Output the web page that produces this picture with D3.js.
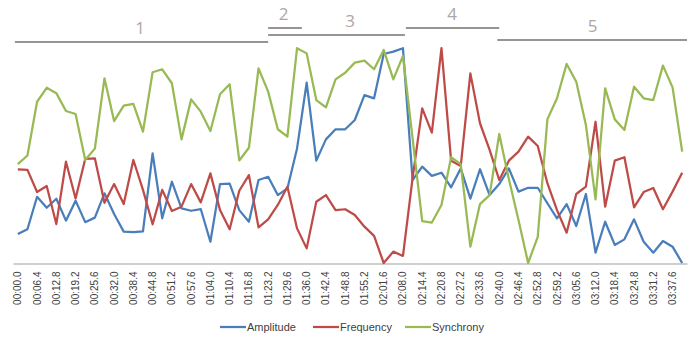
<!DOCTYPE html>
<html>
<head>
<meta charset="utf-8">
<script src="https://cdn.jsdelivr.net/npm/d3@7"></script>
<style>
  body { margin: 0; background: #fff; }
  svg { display: block; }
</style>
</head>
<body>
<div id="chart"></div>
<script>
var svgWidth = 700;
var svgHeight = 343;

// one sample every 3.2 s, labels on every second sample
var tickLabels = ["00:00.0","00:06.4","00:12.8","00:19.2","00:25.6","00:32.0","00:38.4","00:44.8",
  "00:51.2","00:57.6","01:04.0","01:10.4","01:16.8","01:23.2","01:29.6","01:36.0","01:42.4",
  "01:48.8","01:55.2","02:01.6","02:08.0","02:14.4","02:20.8","02:27.2","02:33.6","02:40.0",
  "02:46.4","02:52.8","02:59.2","03:05.6","03:12.0","03:18.4","03:24.8","03:31.2","03:37.6"];

var amplitude = [0.135,0.157,0.308,0.257,0.299,0.197,0.290,0.190,0.211,0.324,0.228,0.146,
  0.144,0.147,0.510,0.208,0.378,0.254,0.243,0.251,0.099,0.367,0.369,0.246,0.192,0.386,
  0.401,0.316,0.347,0.533,0.839,0.476,0.575,0.622,0.622,0.665,0.781,0.766,0.972,0.983,
  0.999,0.386,0.448,0.405,0.420,0.352,0.440,0.299,0.436,0.316,0.367,0.440,0.332,0.350,
  0.350,0.278,0.208,0.274,0.172,0.321,0.048,0.192,0.084,0.110,0.203,0.099,0.048,0.102,
  0.076,0.000];

var frequency = [0.436,0.433,0.330,0.358,0.181,0.471,0.300,0.484,0.487,0.280,0.367,0.274,
  0.479,0.340,0.180,0.340,0.242,0.262,0.367,0.282,0.417,0.246,0.157,0.336,0.409,0.166,
  0.203,0.270,0.355,0.161,0.068,0.285,0.316,0.246,0.250,0.223,0.169,0.126,0.000,0.053,
  0.033,0.395,0.719,0.606,0.999,0.476,0.451,0.882,0.650,0.526,0.386,0.476,0.518,0.588,
  0.544,0.371,0.246,0.141,0.321,0.355,0.657,0.262,0.476,0.492,0.259,0.330,0.349,0.250,
  0.332,0.420];

var synchrony = [0.460,0.500,0.750,0.815,0.790,0.707,0.693,0.479,0.532,0.859,0.660,0.732,
  0.740,0.611,0.887,0.901,0.836,0.575,0.761,0.704,0.614,0.785,0.831,0.477,0.536,0.905,
  0.797,0.622,0.588,0.999,0.975,0.758,0.724,0.854,0.885,0.932,0.941,0.901,0.991,0.854,
  0.963,0.580,0.195,0.188,0.270,0.492,0.460,0.076,0.274,0.316,0.600,0.390,0.200,0.000,
  0.122,0.668,0.766,0.926,0.843,0.642,0.296,0.812,0.668,0.619,0.820,0.766,0.758,0.918,
  0.817,0.518];

var seriesNames = ["Amplitude", "Frequency", "Synchrony"];
var seriesColors = ["#4a7ebb", "#be4b48", "#98b954"];

// numbered sections above the plot, positions in sample units
var sectionLabels = ["1", "2", "3", "4", "5"];
var sectionStart = [-0.3, 26, 26, 40.3, 49.8];
var sectionEnd = [26, 29.5, 40.2, 50, 69.5];
var sectionLabelAt = [12.7, 27.6, 34.5, 45.1, 59.7];
var sectionLevel = [42, 28, 35, 28, 40];

var plot = { left: 13, right: 687, top: 48, bottom: 263 };

var svg = d3.select("#chart")
  .append("svg")
  .attr("width", svgWidth)
  .attr("height", svgHeight);

var xScale = d3.scaleBand()
  .domain(d3.range(amplitude.length))
  .range([plot.left, plot.right]);

// centre of a (possibly fractional) sample position
var xPos = function(v) { return plot.left + (v + 0.5) * xScale.bandwidth(); };

var yScale = d3.scaleLinear()
  .domain([0, 1])
  .range([plot.bottom, plot.top]);

// category axis, labels on every second sample
var bottomAxis = d3.axisBottom(xScale)
  .tickValues(d3.range(0, amplitude.length, 2))
  .tickFormat(function(d) { return tickLabels[d / 2]; })
  .tickSize(0)
  .tickPadding(0);

var axisG = svg.append("g")
  .attr("transform", `translate(0, ${plot.bottom + 0.5})`)
  .call(bottomAxis);

axisG.select(".domain")
  .attr("stroke", "#bfbfbf")
  .attr("stroke-width", 1.5);

axisG.selectAll("text")
  .attr("transform", "rotate(-90)")
  .attr("x", -8)
  .attr("y", 0)
  .attr("dy", "0.35em")
  .attr("text-anchor", "end")
  .attr("font-family", "Liberation Sans, Arial, sans-serif")
  .attr("font-size", "10px")
  .attr("fill", "#404040");

// series lines
var allSeries = [amplitude, frequency, synchrony];

var line = d3.line()
  .x(function(d, i) { return xScale(i) + xScale.bandwidth() / 2; })
  .y(function(d) { return yScale(d); });

svg.selectAll(".series")
  .data(allSeries)
  .enter()
  .append("path")
  .attr("class", "series")
  .attr("d", line)
  .attr("fill", "none")
  .attr("stroke", function(d, i) { return seriesColors[i]; })
  .attr("stroke-width", 2.25)
  .attr("stroke-linejoin", "round");

// section brackets
var sections = svg.selectAll(".section")
  .data(sectionLabels)
  .enter()
  .append("g")
  .attr("class", "section");

sections.append("line")
  .attr("x1", function(d, i) { return xPos(sectionStart[i]); })
  .attr("x2", function(d, i) { return xPos(sectionEnd[i]); })
  .attr("y1", function(d, i) { return sectionLevel[i]; })
  .attr("y2", function(d, i) { return sectionLevel[i]; })
  .attr("stroke", "#767171")
  .attr("stroke-width", 1.5);

sections.append("text")
  .attr("x", function(d, i) { return xPos(sectionLabelAt[i]); })
  .attr("y", function(d, i) { return sectionLevel[i] - 8; })
  .attr("text-anchor", "middle")
  .attr("font-family", "Open Sans, Liberation Sans, sans-serif")
  .attr("font-size", "17px")
  .attr("fill", "#aea6a6")
  .text(function(d) { return d; });

// legend
var legendX = [220, 313, 405];

var legend = svg.selectAll(".legend")
  .data(seriesNames)
  .enter()
  .append("g")
  .attr("class", "legend")
  .attr("transform", function(d, i) { return `translate(${legendX[i]}, 327)`; });

legend.append("line")
  .attr("x1", 0)
  .attr("x2", 26)
  .attr("stroke", function(d, i) { return seriesColors[i]; })
  .attr("stroke-width", 2.25);

legend.append("text")
  .attr("x", 27)
  .attr("dy", "0.35em")
  .attr("font-family", "Liberation Sans, Arial, sans-serif")
  .attr("font-size", "11px")
  .attr("fill", "#404040")
  .text(function(d) { return d; });
</script>
</body>
</html>
